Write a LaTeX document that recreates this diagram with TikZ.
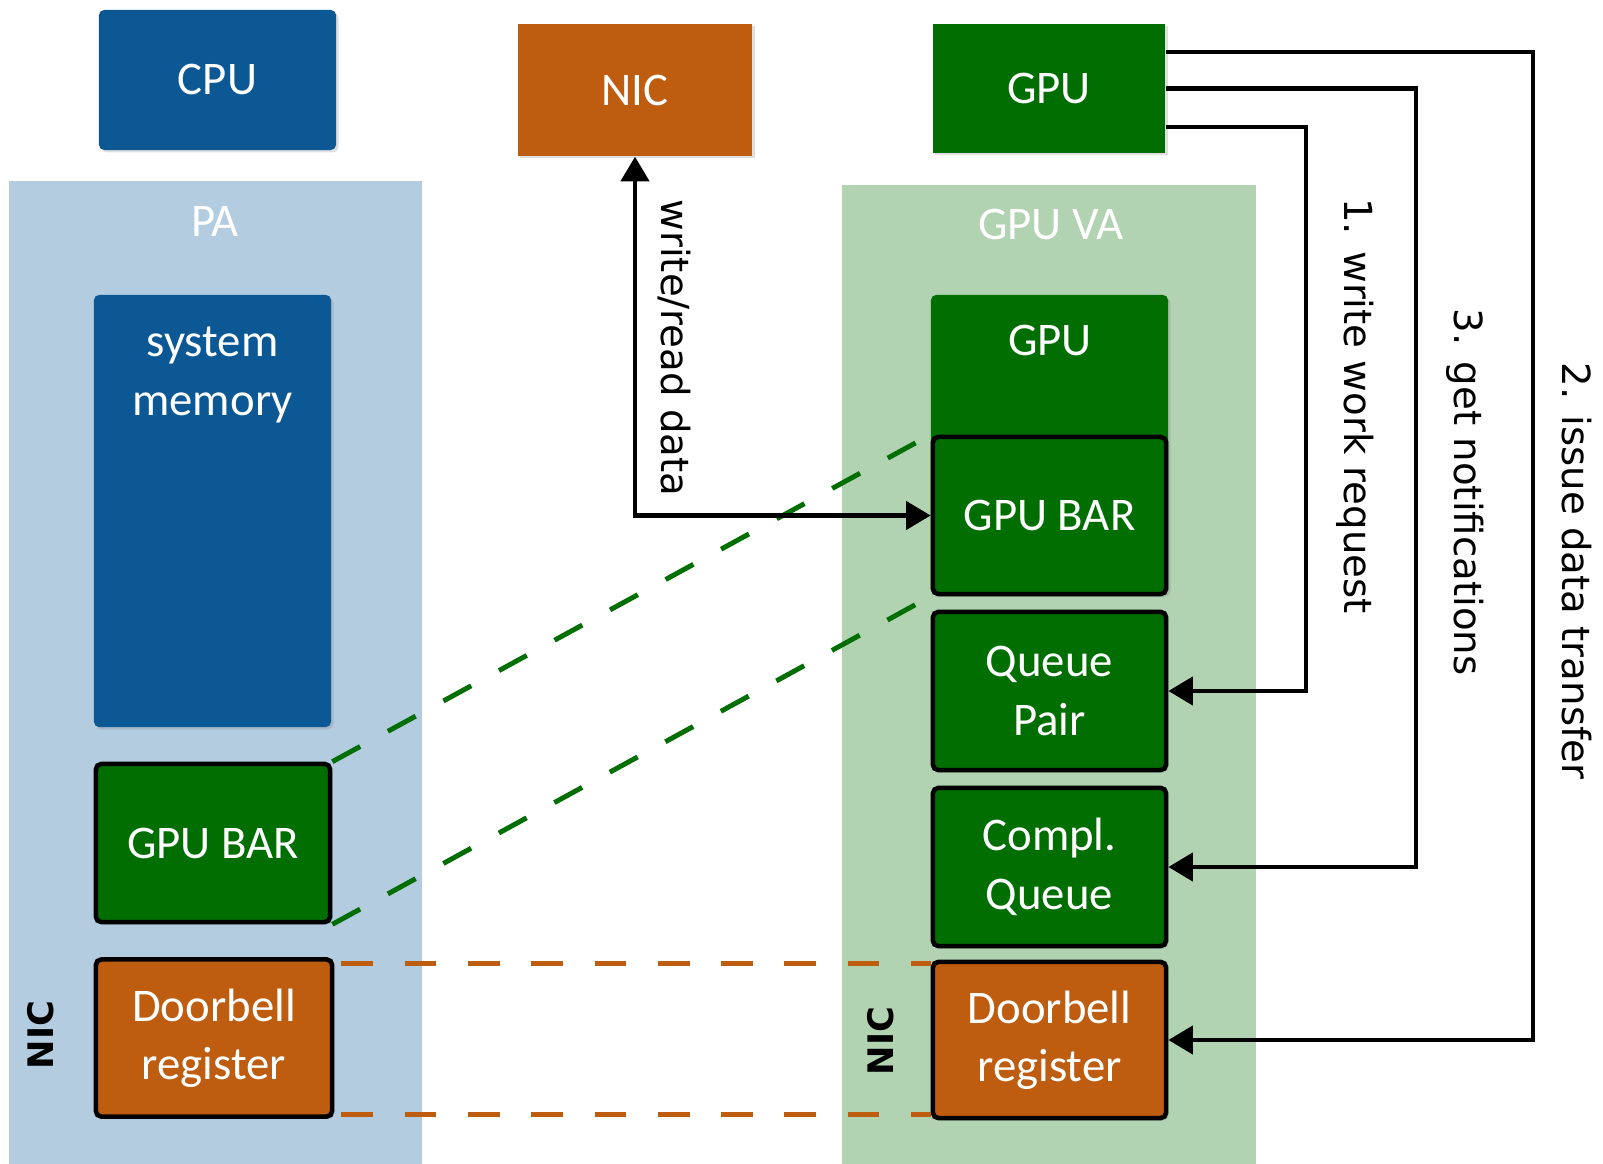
\documentclass[tikz,border=0pt]{standalone}
\usepackage{fontspec}
\setmainfont{Carlito}
\newfontfamily\lblfont{DejaVu Sans}
\usetikzlibrary{arrows.meta,shadows}

\definecolor{cpublue}{RGB}{11,88,148}
\definecolor{nicorange}{RGB}{190,92,15}
\definecolor{gpugreen}{RGB}{0,110,0}
\definecolor{paleblue}{RGB}{180,204,224}
\definecolor{palegreen}{RGB}{178,211,178}

\begin{document}
\begin{tikzpicture}[x=0.01cm, y=-0.01cm,
  >={Triangle[length=7pt,width=8pt]},
  box/.style={fill=#1, text=white, align=center, inner sep=0pt,
    font=\fontsize{13.3}{16.6}\selectfont, rounded corners=1.5pt,
    drop shadow={shadow xshift=0.7pt, shadow yshift=-0.7pt, opacity=0.25}},
  framed/.style={draw=black, line width=1.3pt},
  boxtext/.style={text=white, align=center, font=\fontsize{13.3}{17}\selectfont},
  lbl/.style={font=\lblfont\fontsize{11}{13}\selectfont, rotate=-90},
  niclbl/.style={font=\lblfont\bfseries\fontsize{10}{12}\selectfont, rotate=90},
  arr/.style={line width=1.2pt},
  map/.style={line width=1.4pt, dash pattern=on 9pt off 9pt}]
  \useasboundingbox (0,0) rectangle (1603,1164);

  % address spaces
  \fill[paleblue] (9,181) rectangle (422,1164);
  \fill[palegreen] (842,185) rectangle (1256,1164);
  \node[boxtext] (pa) at (215,222) {PA};
  \node[boxtext] (gpuva) at (1051,225) {GPU VA};

  % devices
  \node[box=cpublue, minimum width=2.37cm, minimum height=1.40cm] (cpu) at (217.5,80) {CPU};
  \node[box=nicorange, sharp corners, minimum width=2.34cm, minimum height=1.32cm] (nic) at (635,90) {NIC};
  \node[box=gpugreen, sharp corners, minimum width=2.32cm, minimum height=1.29cm] (gpu) at (1049,88.5) {GPU};

  % PA side
  \node[box=cpublue, minimum width=2.37cm, minimum height=4.32cm] (sysmem) at (212.5,511) {};
  \node[boxtext] (sysmemtxt) at (212.5,375) {system\\memory};
  \node[box=gpugreen, framed, minimum width=2.34cm, minimum height=1.58cm] (barL) at (213,843) {GPU BAR};
  \node[box=nicorange, framed, minimum width=2.36cm, minimum height=1.57cm] (dbL) at (214,1038) {Doorbell\\register};
  \node[niclbl] (nicL) at (41,1035) {NIC};

  % GPU VA side
  \node[box=gpugreen, minimum width=2.37cm, minimum height=2.99cm] (gpuin) at (1049.5,444.5) {};
  \node[boxtext] (gpuintxt) at (1050,340) {GPU};
  \node[box=gpugreen, framed, minimum width=2.33cm, minimum height=1.57cm] (barR) at (1049.5,515.5) {GPU BAR};
  \node[box=gpugreen, framed, minimum width=2.33cm, minimum height=1.58cm] (qp) at (1049.5,691) {Queue\\Pair};
  \node[box=gpugreen, framed, minimum width=2.33cm, minimum height=1.58cm] (cq) at (1049.5,867) {Compl.\\Queue};
  \node[box=nicorange, framed, minimum width=2.33cm, minimum height=1.56cm] (dbR) at (1049.5,1040) {Doorbell\\register};
  \node[niclbl] (nicR) at (881,1041) {NIC};

  % mappings
  \draw[map, gpugreen] (barL.north east) -- (barR.north west);
  \draw[map, gpugreen] (barL.south east) -- (barR.south west);
  \draw[map, nicorange] ([xshift=2pt,yshift=-0.6mm]dbL.north east) -- ([yshift=-0.6mm]dbL.north east -| dbR.west);
  \draw[map, nicorange] ([xshift=2pt,yshift=0.4mm]dbL.south east) -- ([yshift=0.4mm]dbL.south east -| dbR.west);

  % data path
  \draw[arr, <->] (nic.south) |- (barR.west);
  \node[lbl] (rwlbl) at (674,348) {write/read data};

  % control path
  \coordinate (c1) at (1306,0);
  \coordinate (c3) at (1416,0);
  \coordinate (c2) at (1533,0);
  \draw[arr, ->] ([yshift=-3.85mm]gpu.east) -| (c1 |- qp.east) -- (qp.east);
  \draw[arr, ->] (gpu.east) -| (c3 |- cq.east) -- (cq.east);
  \draw[arr, ->] ([yshift=3.65mm]gpu.east) -| (c2 |- dbR.east) -- (dbR.east);
  \node[lbl] (step1) at (1355,406) {1. write work request};
  \node[lbl] (step3) at (1465,492) {3. get notifications};
  \node[lbl] (step2) at (1577,571) {2. issue data transfer};
\end{tikzpicture}
\end{document}
